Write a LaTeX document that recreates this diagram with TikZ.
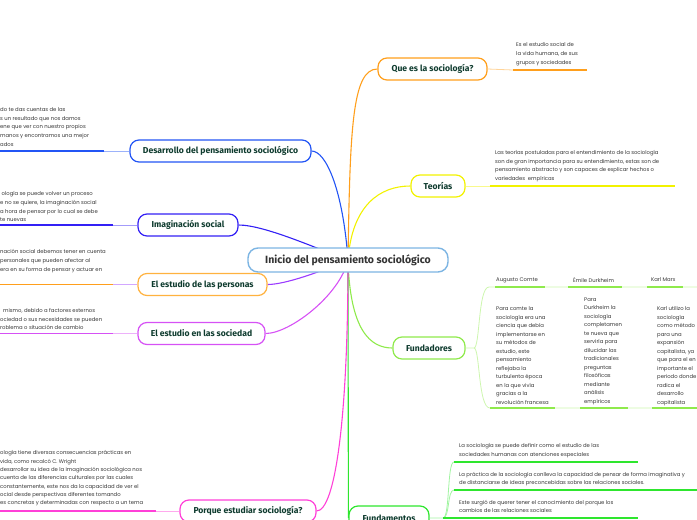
\documentclass[tikz,border=0pt]{standalone}
\usepackage{fontspec}
\setmainfont{Fira Sans}
\newfontfamily\notefont{Poppins}
\usetikzlibrary{backgrounds}
\definecolor{ink}{HTML}{0E3B2E}
\definecolor{notegray}{HTML}{363636}
\definecolor{rootblue}{HTML}{7DB5E3}
\definecolor{cOrange}{HTML}{FF9F1C}
\definecolor{cPersona}{HTML}{FFB23F}
\definecolor{cYellow}{HTML}{F2F200}
\definecolor{cLime}{HTML}{8FEA4C}
\definecolor{cGreen}{HTML}{2EE62E}
\definecolor{cBlue}{HTML}{2355F5}
\definecolor{cIndigo}{HTML}{3320F5}
\definecolor{cPurple}{HTML}{9B3BFF}
\definecolor{cViolet}{HTML}{D651F5}
\definecolor{cPink}{HTML}{FF40D8}

\begin{document}
\begin{tikzpicture}[x=1pt,y=-1pt,
	root/.style={draw=rootblue,line width=1.4pt,rounded corners=10pt,fill=white,minimum height=24pt,inner xsep=4pt,font=\fontsize{10.5}{11}\selectfont\bfseries,text=black!80},
	topic/.style={draw=#1,line width=1.2pt,rounded corners=9pt,fill=white,minimum height=22pt,inner xsep=4pt,font=\fontsize{8.6}{9}\selectfont\bfseries,text=ink},
	note/.style={anchor=north west,inner sep=0pt,align=left,font=\notefont\fontsize{5.3}{8.6}\selectfont,text=notegray},
	link/.style={draw=#1,line width=1.1pt},
	stub/.style={draw=#1!45,line width=0.8pt},
	ul/.style={draw=#1,line width=1.5pt}
	]
	\useasboundingbox (0,0) rectangle (697,520);
	\clip (0,0) rectangle (697,520);
	
	% centre and main topics
	\node[root,minimum width=200pt] (root) at (348,260) {Inicio del pensamiento sociológico};
	\node[topic=cOrange,minimum width=109pt] (que) at (432.5,69) {Que es la sociología?};
	\node[topic=cYellow,minimum width=54pt] (teo) at (438,186) {Teorías};
	\node[topic=cLime,minimum width=72pt] (fund) at (429,348) {Fundadores};
	\node[topic=cGreen,minimum width=80pt,minimum height=24pt] (fmt) at (389,518) {Fundamentos};
	\node[topic=cBlue,minimum width=181pt] (des) at (220.5,151) {Desarrollo del pensamiento sociológico};
	\node[topic=cIndigo,minimum width=100pt] (ima) at (188,225) {Imaginación social};
	\node[topic=cPersona,minimum width=129pt] (per) at (202.5,284.5) {El estudio de las personas};
	\node[topic=cViolet,minimum width=127pt] (soc) at (201.5,333.5) {El estudio en las sociedad};
	\node[topic=cPink,minimum width=136pt] (porq) at (248,511) {Porque estudiar sociología?};
	
	% connectors from the centre
	\begin{pgfonlayer}{background}
		\draw[link=cOrange] (root.center) .. controls (350,130) and (352,69) .. (que.west);
		\draw[link=cYellow] (root.center) .. controls (352,205) and (380,186) .. (teo.west);
		\draw[link=cLime] (root.center) .. controls (350,330) and (370,348) .. (fund.west);
		\draw[link=cGreen] (root.center) -- (fmt.west);
		\draw[link=cBlue] (root.center) .. controls (343,190) and (326,151) .. (des.east);
		\draw[link=cIndigo] (root.center) .. controls (320,250) and (265,225) .. (ima.east);
		\draw[link=cPurple] (root.center) .. controls (320,272) and (285,284.5) .. (per.east);
		\draw[link=cViolet] (root.center) .. controls (340,295) and (290,333.5) .. (soc.east);
		\draw[link=cPink] (root.center) .. controls (348,420) and (335,511) .. (porq.east);
	\end{pgfonlayer}
	
	% notes on the right
	\coordinate (qa) at (513,70); \coordinate (qb) at (587,70);
	\draw[stub=cOrange] (que.east) -- (qa);
	\draw[ul=cOrange] (qa) -- (qb);
	\node[note,font=\notefont\fontsize{5.3}{8.8}\selectfont] (queN) at (516,42.5) {Es el estudio social de\\la vida humana, de sus\\grupos y sociedades};
	
	\coordinate (ta) at (490,186); \coordinate (tb) at (675,186);
	\draw[stub=cYellow] (teo.east) -- (ta);
	\draw[ul=cYellow] (ta) -- (tb);
	\node[note,font=\notefont\fontsize{5.3}{8.4}\selectfont] (teoN) at (495,150.5) {Las teorías postuladas para el entendimiento de la sociología\\son de gran importancia para su entendimiento, estas son de\\pensamiento abstracto y son capaces de explicar hechos o\\variedades\ \ empíricas};
	
	% founders
	\coordinate (bj) at (474,348);
	\coordinate (bt) at (489,287); \coordinate (bb) at (490,408);
	\draw[stub=cLime] (fund.east) -- (bj) .. controls (480,348) and (478,287) .. (bt) -- (697,287);
	\draw[stub=cLime] (bj) .. controls (480,348) and (478,408) .. (bb) -- (697,408);
	\foreach \a/\b in {495/545, 568/622, 647/683} \draw[ul=cLime] (\a,287) -- (\b,287);
	\foreach \a/\b in {490/555, 580/628, 652/697} \draw[ul=cLime] (\a,408) -- (\b,408);
	\node[note] (comte) at (496,277.5) {Augusto Comte};
	\node[note] (durk) at (573,277.5) {Émile Durkheim};
	\node[note] (marx) at (651,277.5) {Karl Marx};
	\node[note,font=\notefont\fontsize{5.3}{8.5}\selectfont] (comteN) at (496,306.5) {Para comte la\\sociología era una\\ciencia que debía\\implementarse en\\su métodos de\\estudio, este\\pensamiento\\reflejaba la\\turbulenta época\\en la que vivía\\gracias a la\\revolución francesa};
	\node[note,font=\notefont\fontsize{5.3}{8.5}\selectfont] (durkN) at (584,297.5) {Para\\Durkheim la\\sociología\\completamen\\te nueva que\\serviría para\\dilucidar las\\tradicionales\\preguntas\\filosóficas\\mediante\\análisis\\empíricos};
	\node[note,font=\notefont\fontsize{5.3}{8.5}\selectfont] (marxN) at (657,306.5) {Karl utilizo la\\sociología\\como método\\para una\\expansión\\capitalista, ya\\que para el en\\importante el\\periodo donde\\radica el\\desarrollo\\capitalista};
	
	% fundamentals
	\coordinate (fj) at (443,518);
	\draw[stub=cGreen] (fmt.east) -- (fj) .. controls (450,518) and (447,462) .. (454,462);
	\draw[stub=cGreen] (fj) .. controls (450,518) and (447,490) .. (454,490);
	\draw[ul=cGreen] (454,462) -- (638,462);
	\draw[ul=cGreen] (454,490) -- (697,490);
	\draw[ul=cGreen] (fj) -- (638,518);
	\node[note] (fm1) at (459,443.2) {La sociología se puede definir como el estudio de las\\sociedades humanas con atenciones especiales};
	\node[note] (fm2) at (459,471.8) {La práctica de la sociología conlleva la capacidad de pensar de forma imaginativa y\\de distanciarse de ideas preconcebidas sobre las relaciones sociales.};
	\node[note] (fm3) at (459,499.8) {Este surgió de querer tener el conocimiento del porque los\\cambios de las relaciones sociales};
	
	% notes on the left
	\coordinate (da) at (104,151); \coordinate (db) at (0,151);
	\draw[stub=cBlue] (des.west) -- (da);
	\draw[ul=cBlue] (da) -- (db);
	\node[note] (desN) at (0,107.5) {do te das cuentas de las\\s un resultado que nos damos\\ene que ver con nuestro propios\\manos y encontramos una mejor\\ados};
	
	\coordinate (ia) at (113,225); \coordinate (ib) at (0,225);
	\draw[stub=cIndigo] (ima.west) -- (ia);
	\draw[ul=cIndigo] (ia) -- (ib);
	\node[note] (imaN) at (0,191.5) {\hspace{1.5pt}ología se puede volver un proceso\\e no se quiere, la imaginación social\\a hora de pensar por lo cual se debe\\te nuevas};
	
	\coordinate (pa) at (113,284.5); \coordinate (pb) at (0,284.5);
	\draw[stub=cPurple] (per.west) -- (pa);
	\draw[ul=cOrange] (pa) -- (pb);
	\node[note] (perN) at (0,249.5) {nación social debemos tener en cuenta\\personales que pueden afectar al\\era en su forma de pensar y actuar en};
	
	\coordinate (sa) at (113,333.5); \coordinate (sb) at (0,333.5);
	\draw[stub=cViolet] (soc.west) -- (sa);
	\draw[ul=cViolet] (sa) -- (sb);
	\node[note] (socN) at (0,308.5) {\hspace{3pt}mismo, debido a factores externos\\ociedad o sus necesidades se pueden\\roblema o situación de cambio};
	
	\coordinate (wa) at (156,511); \coordinate (wb) at (0,511);
	\draw[stub=cPink] (porq.west) -- (wa);
	\draw[ul=cPink] (wa) -- (wb);
	\node[note,font=\notefont\fontsize{5.3}{8.3}\selectfont] (porqN) at (0,450.5) {ología tiene diversas consecuencias prácticas en\\vida, como recalcó C. Wright\\desarrollar su idea de la imaginación sociológica nos\\cuenta de las diferencias culturales por las cuales\\constantemente, este nos da la capacidad de ver el\\ocial desde perspectivas diferentes tomando\\es concretas y determinadas con respecto a un tema};
\end{tikzpicture}
\end{document}
